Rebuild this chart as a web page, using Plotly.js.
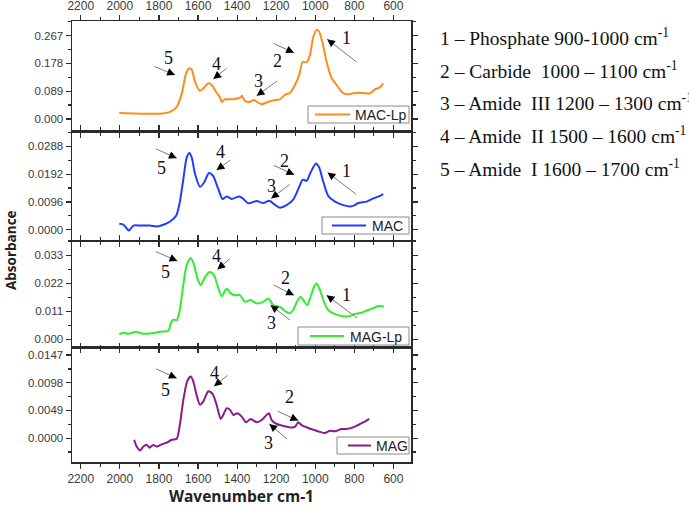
<!DOCTYPE html>
<html><head><meta charset="utf-8">
<script src="https://cdn.plot.ly/plotly-3.0.1.min.js"></script>
<style>html,body{margin:0;padding:0;background:#fff}#chart{width:689px;height:507px}</style>
</head><body><div id="chart"></div>
<script>
// ---- data ----
const seriesNames = ["MAC-Lp", "MAC", "MAG-Lp", "MAG"];

const macLpWavenumber = [2003,1965,1880,1794,1743,1709,1683,1661,1644,1632,1615,1590,1573,1547,1530,1508,1487,1479,1462,1419,1385,1376,1360,1334,1314,1292,1274,1240,1206,1181,1155,1129,1104,1082,1064,1044,1027,1010,993,980,962,942,916,891,865,843,806,780,720,695,669,652];
const macLpAbsorbance = [0.020,0.018,0.017,0.017,0.023,0.039,0.082,0.146,0.162,0.157,0.119,0.090,0.098,0.114,0.109,0.087,0.069,0.055,0.063,0.063,0.068,0.074,0.058,0.055,0.061,0.052,0.047,0.055,0.061,0.063,0.077,0.084,0.109,0.141,0.183,0.181,0.205,0.263,0.285,0.279,0.242,0.183,0.130,0.109,0.087,0.079,0.082,0.084,0.082,0.095,0.101,0.114];

const macWavenumber = [2003,1982,1965,1953,1931,1897,1846,1811,1777,1743,1712,1695,1675,1658,1644,1632,1615,1590,1569,1544,1523,1496,1474,1453,1428,1389,1371,1343,1300,1266,1235,1206,1181,1147,1113,1087,1064,1044,1024,996,980,959,934,899,857,822,797,780,737,703,678,652];
const macAbsorbance = [0.0020,0.0017,0.0004,-0.0003,0.0014,0.0014,0.0014,0.0011,0.0017,0.0028,0.0048,0.0089,0.0175,0.0249,0.0265,0.0249,0.0192,0.0148,0.0163,0.0196,0.0186,0.0140,0.0106,0.0115,0.0106,0.0115,0.0108,0.0091,0.0099,0.0092,0.0100,0.0086,0.0076,0.0085,0.0104,0.0140,0.0173,0.0169,0.0198,0.0229,0.0215,0.0166,0.0117,0.0097,0.0085,0.0080,0.0085,0.0092,0.0097,0.0108,0.0114,0.0123];

const magLpWavenumber = [2003,1982,1957,1914,1888,1846,1794,1752,1738,1726,1709,1695,1678,1658,1637,1620,1603,1586,1564,1539,1518,1501,1479,1453,1433,1411,1385,1360,1331,1300,1266,1240,1215,1181,1155,1133,1113,1092,1075,1058,1041,1024,1006,993,976,955,934,899,857,822,806,763,729,695,678,649];
const magLpAbsorbance = [0.0020,0.0026,0.0022,0.0030,0.0023,0.0023,0.0030,0.0034,0.0065,0.0078,0.0075,0.0108,0.0199,0.0291,0.0319,0.0291,0.0238,0.0212,0.0245,0.0264,0.0251,0.0212,0.0169,0.0199,0.0180,0.0173,0.0173,0.0147,0.0154,0.0141,0.0147,0.0160,0.0134,0.0127,0.0111,0.0102,0.0115,0.0150,0.0167,0.0150,0.0134,0.0167,0.0206,0.0219,0.0193,0.0147,0.0115,0.0099,0.0091,0.0091,0.0098,0.0104,0.0115,0.0125,0.0131,0.0129];

const magWavenumber = [1927,1914,1897,1880,1862,1849,1829,1811,1786,1760,1735,1709,1692,1675,1655,1637,1624,1607,1590,1573,1547,1525,1505,1484,1471,1453,1436,1419,1399,1376,1354,1331,1300,1274,1249,1237,1223,1197,1167,1129,1104,1087,1070,1036,1002,976,951,925,899,865,840,806,771,746,724];
const magAbsorbance = [-0.0003,-0.0015,-0.0022,-0.0015,-0.0012,-0.0017,-0.0012,-0.0015,-0.0011,-0.0008,-0.0003,-0.0001,0.0026,0.0068,0.0101,0.0109,0.0100,0.0076,0.0059,0.0065,0.0083,0.0078,0.0059,0.0034,0.0041,0.0053,0.0050,0.0041,0.0044,0.0038,0.0028,0.0034,0.0028,0.0032,0.0041,0.0044,0.0032,0.0025,0.0022,0.0019,0.0020,0.0028,0.0023,0.0018,0.0014,0.0011,0.0009,0.0013,0.0012,0.0016,0.0016,0.0019,0.0025,0.0029,0.0034];

const xTickValues = [2200,2000,1800,1600,1400,1200,1000,800,600];
const macLpYTicks = [0.000,0.089,0.178,0.267];
const macYTicks = [0.0000,0.0096,0.0192,0.0288];
const magLpYTicks = [0.000,0.011,0.022,0.033];
const magYTicks = [0.0000,0.0049,0.0098,0.0147];

const bandNotes = [
  "1 \u2013 Phosphate 900-1000 cm<sup>-1</sup>",
  "2 \u2013 Carbide\u00a0 1000 \u2013 1100 cm<sup>-1</sup>",
  "3 \u2013 Amide\u00a0 III 1200 \u2013 1300 cm<sup>-1</sup>",
  "4 \u2013 Amide\u00a0 II 1500 \u2013 1600 cm<sup>-1</sup>",
  "5 \u2013 Amide\u00a0 I 1600 \u2013 1700 cm<sup>-1</sup>"
];

// ---- layout helpers ----
const W = 689, H = 507, ML = 72, MR = 278, MT = 21, MB = 45;
const PW = W - ML - MR, PH = H - MT - MB;
const px = v => (v - ML) / PW;          // pixel -> paper x
const py = v => (H - MB - v) / PH;      // pixel -> paper y

const colors = ["#FF8C1F", "#1F3DFF", "#2EEE2E", "#8A1A8A"];
const wnData = [macLpWavenumber, macWavenumber, magLpWavenumber, magWavenumber];
const absData = [macLpAbsorbance, macAbsorbance, magLpAbsorbance, magAbsorbance];
const yTicks = [macLpYTicks, macYTicks, magLpYTicks, magYTicks];
const yFormats = [".3f", ".4f", ".3f", ".4f"];
const yRanges = [[-0.0406, 0.3134], [-0.0038, 0.0339], [-0.0026, 0.0385], [-0.00423, 0.01576]];
const yDomains = [[0.749, 1], [0.502, 0.749], [0.263, 0.501], [0, 0.256]];
// legend boxes (pixel layout): [left, top, bottom, lineLeft, lineRight, textLeft, fontSize]
const legendBoxes = [
  [308, 106, 123, 315, 350, 353, 14],
  [322, 217, 234, 332, 366, 370, 14],
  [298, 327, 345, 310, 344, 348, 14],
  [337, 437, 454, 348, 371, 374, 14]
];

const tickFont = {family: "Liberation Sans, Arial, sans-serif", size: 11.5, color: "#3a3a3a"};
const frame = {showline: true, linecolor: "#2a2a2a", linewidth: 1.5, mirror: "allticks",
  ticks: "outside", ticklen: 5, tickwidth: 1.2, tickcolor: "#2a2a2a",
  showgrid: false, zeroline: false, tickfont: tickFont};

const traces = [];
const layout = {
  width: W, height: H,
  margin: {l: ML, r: MR, t: MT, b: MB},
  paper_bgcolor: "#fff", plot_bgcolor: "#fff",
  showlegend: false,
  annotations: [], shapes: []
};

for (let i = 0; i < 4; i++) {
  const s = i === 0 ? "" : String(i + 1);
  traces.push({
    type: "scatter", mode: "lines", name: seriesNames[i],
    x: wnData[i], y: absData[i],
    xaxis: "x" + s, yaxis: "y" + s,
    line: {color: colors[i], width: 2, shape: "spline", smoothing: 0.7}
  });
  layout["xaxis" + s] = Object.assign({}, frame, {
    range: [2245, 510], autorange: false, anchor: "y" + s,
    tickmode: "array", tickvals: xTickValues,
    minor: {dtick: 100, tick0: 0, ticklen: 3, tickcolor: "#2a2a2a", ticks: "outside"},
    showticklabels: i === 0 || i === 3,
    side: i === 0 ? "top" : "bottom",
    tickfont: Object.assign({}, tickFont, {size: 12})
  });
  const d = yTicks[i][1] - yTicks[i][0];
  layout["yaxis" + s] = Object.assign({}, frame, {
    range: yRanges[i], autorange: false, domain: yDomains[i], anchor: "x" + s,
    tickmode: "array", tickvals: yTicks[i], tickformat: yFormats[i],
    minor: {dtick: d / 2, tick0: 0, ticklen: 3, tickcolor: "#2a2a2a", ticks: "outside"}
  });
  // legend box drawn with shapes + text
  const b = legendBoxes[i];
  layout.shapes.push({type: "rect", xref: "paper", yref: "paper",
    x0: px(b[0]), x1: px(409), y0: py(b[2]), y1: py(b[1]),
    line: {color: "#8a8a8a", width: 1}, fillcolor: "#fff", layer: "above"});
  const ym = (b[1] + b[2]) / 2;
  layout.shapes.push({type: "line", xref: "paper", yref: "paper",
    x0: px(b[3]), x1: px(b[4]), y0: py(ym), y1: py(ym),
    line: {color: colors[i], width: 2}, layer: "above"});
  layout.annotations.push({text: seriesNames[i], xref: "paper", yref: "paper",
    x: px(b[5]), y: py(ym + 0.5), xanchor: "left", yanchor: "middle", showarrow: false,
    font: {family: "Liberation Sans, Arial, sans-serif", size: b[6], color: "#222"}});
}

layout.xaxis4.title = {text: "Wavenumber cm-1", standoff: 12,
  font: {family: "Open Sans, sans-serif", size: 15.5, color: "#222", weight: "bold"}};

layout.annotations.push({
  text: "<b>Absorbance</b>", xref: "paper", yref: "paper", x: px(11), y: py(250),
  textangle: -90, showarrow: false, xanchor: "center", yanchor: "middle",
  font: {family: "Open Sans, sans-serif", size: 13.5, color: "#222"}
});

const noteRows = [37, 70, 102, 135, 168];
bandNotes.forEach((t, k) => layout.annotations.push({
  text: t, xref: "paper", yref: "paper", x: px(438), y: py(noteRows[k]),
  xanchor: "left", yanchor: "middle", showarrow: false,
  font: {family: "Liberation Serif, Times New Roman, serif", size: 19.5, color: "#111"}
}));

// peak markers: [label, labelWn, labelAbs, headWn, headAbs, tailDx(px), tailDy(px)]
const peakMarks = [
  [["5",1752,0.194,1718,0.141,-22,-9],["4",1505,0.175,1522,0.128,15,-12],["3",1293,0.122,1300,0.074,22,-16],["2",1191,0.186,1109,0.212,-22,-10],["1",841,0.258,939,0.255,31,24]],
  [["5",1786,0.0212,1709,0.0247,-22,-10],["4",1487,0.0267,1505,0.0206,15,-11],["2",1155,0.0238,1107,0.0190,-22,-10],["3",1223,0.0152,1226,0.0108,20,-15],["1",841,0.0204,937,0.0198,30,23]],
  [["5",1764,0.0262,1706,0.0307,-23,-10],["4",1508,0.0327,1501,0.0274,14,-12],["2",1150,0.0241,1109,0.0173,-22,-11],["3",1226,0.0065,1229,0.0134,21,16],["1",841,0.0173,942,0.0173,32,24]],
  [["5",1769,0.0085,1709,0.0106,-22,-10],["4",1518,0.0115,1518,0.0092,15,-12],["2",1133,0.0072,1087,0.0031,-22,-10],["3",1240,-0.0009,1235,0.0025,19,16]]
];
peakMarks.forEach((list, i) => {
  const s = i === 0 ? "" : String(i + 1);
  list.forEach(m => {
    layout.annotations.push({text: m[0], xref: "x" + s, yref: "y" + s, x: m[1], y: m[2],
      showarrow: false, font: {family: "Liberation Serif, Times New Roman, serif", size: 18, color: "#111"}});
    layout.annotations.push({text: "", xref: "x" + s, yref: "y" + s, x: m[3], y: m[4],
      ax: m[5], ay: m[6], showarrow: true, arrowhead: 0, arrowwidth: 1, arrowcolor: "#7a7a7a"});
    const len = Math.hypot(m[5], m[6]), k = 7 / len;
    layout.annotations.push({text: "", xref: "x" + s, yref: "y" + s, x: m[3], y: m[4],
      ax: m[5] * k, ay: m[6] * k, showarrow: true, arrowhead: 2, arrowsize: 1.3, arrowwidth: 1.2, arrowcolor: "#000"});
  });
});

Plotly.newPlot("chart", traces, layout, {staticPlot: true, displayModeBar: false});
</script>
</body></html>
